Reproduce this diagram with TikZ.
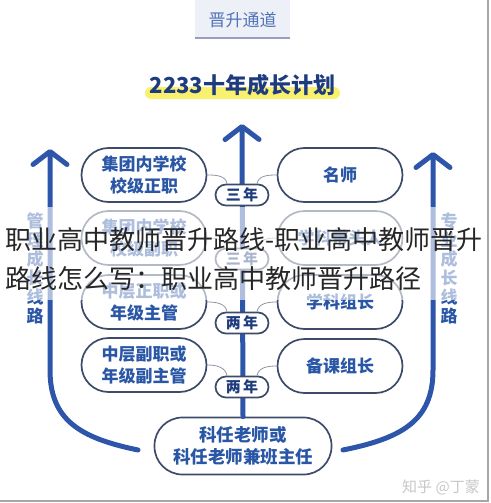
\documentclass[tikz,border=0pt]{standalone}
\usepackage{fontspec}
\setmainfont{Noto Sans CJK SC}
\definecolor{PathBlue}{RGB}{45, 85, 170}
\definecolor{BoxLine}{RGB}{60, 75, 105}
\definecolor{TextBlue}{RGB}{42, 86, 166}
\definecolor{TitleBlue}{RGB}{30, 60, 125}
\definecolor{TabFill}{RGB}{238, 240, 248}
\definecolor{TabLine}{RGB}{150, 160, 190}
\definecolor{TabText}{RGB}{80, 115, 185}
\definecolor{MarkYellow}{RGB}{248, 240, 110}
\definecolor{ConnGray}{RGB}{140, 150, 165}
\usetikzlibrary{arrows.meta, positioning, calc}

\begin{document}
\begin{tikzpicture}[x=1pt, y=-1pt,
    stage/.style={draw=BoxLine, line width=1.7pt, fill=white, rounded corners=27pt,
        minimum width=125pt, minimum height=54pt, inner sep=0pt, align=center,
        text=TextBlue, font=\bfseries\fontsize{17}{22}\selectfont},
    years/.style={draw=BoxLine, line width=1.7pt, fill=white, rounded corners=10.5pt,
        minimum width=53pt, minimum height=21pt, inner sep=0pt,
        text=TitleBlue, font=\bfseries\fontsize{15}{15}\selectfont},
    growth/.style={draw=PathBlue, line width=5pt, line cap=round,
        -{Straight Barb[length=13pt, width=34pt, round]}},
    conn/.style={draw=ConnGray, line width=0.8pt},
    sidetext/.style={align=center, text=TextBlue, inner sep=0pt,
        font=\bfseries\fontsize{17}{19}\selectfont}]
    \useasboundingbox (0,0) rectangle (490,503);

    % Header tab
    \fill[TabFill] (195,0) rectangle (290,38);
    \draw[TabLine, line width=1.2pt] (195,38) -- (290,38);
    \node[text=TabText, font=\fontsize{17}{17}\selectfont] (tab) at (242.5,20) {晋升通道};

    % Title with marker
    \fill[MarkYellow, rounded corners=6pt] (145,87) rectangle (340,99);
    \node[text=TitleBlue, font=\bfseries\fontsize{22}{22}\selectfont] (title) at (242.5,85) {2233十年成长计划};

    % Bottom stage
    \node[stage, minimum width=177pt, minimum height=57pt, rounded corners=28pt,
        font=\bfseries\fontsize{17.5}{22}\selectfont] (bb) at (243,446) {科任老师或\\科任老师兼班主任};

    % Growth arrows
    \coordinate (ctop) at (242,124);
    \coordinate (ltop) at (50,149);
    \coordinate (lend) at (138,450);
    \coordinate (rtop) at (433,152);
    \coordinate (rend) at (343,450);
    \draw[growth] (bb.north) -- (ctop);
    \draw[growth] (lend) .. controls (80,438) and (50,420) .. (50,370) -- (ltop);
    \draw[growth] (rend) .. controls (403,438) and (433,420) .. (433,370) -- (rtop);

    % Side labels
    \node[sidetext] (lside) at (35,268.5) {管\\理\\成\\长\\线\\路};
    \node[sidetext] (rside) at (449,268.5) {专\\业\\成\\长\\线\\路};

    % Management stages
    \node[stage] (lb1) at (144,175) {集团内学校\\校级正职};
    \node[stage] (lb2) at (144,238) {集团内学校\\校级副职};
    \node[stage] (lb3) at (144,302) {中层正职或\\年级主管};
    \node[stage] (lb4) at (144,365) {中层副职或\\年级副主管};

    % Teaching stages
    \node[stage] (rb1) at (340,175) {名师};
    \node[stage] (rb2) at (340,238) {学科带头人};
    \node[stage] (rb3) at (340,302) {学科组长};
    \node[stage] (rb4) at (340,366) {备课组长};

    % Year marks
    \node[years] (y1) at (242,195) {三\,年};
    \node[years] (y2) at (242,259) {三\,年};
    \node[years] (y3) at (242,323) {两\,年};
    \node[years] (y4) at (242,387) {两\,年};
    \foreach \i in {1,...,4} {
        \draw[conn] (lb\i.east) to[out=0, in=100] ($(y\i.north)+(-15,0)$);
        \draw[conn] (rb\i.west) to[out=180, in=80] ($(y\i.north)+(15,0)$);
    }

    % Caption band over the picture
    \fill[white, opacity=0.62] (0,207) rectangle (490,300);
    \node[anchor=west, inner sep=0pt, text=black!85, font=\fontsize{26}{26}\selectfont] (cap1) at (5,240) {职业高中教师晋升路线-职业高中教师晋升};
    \node[anchor=west, inner sep=0pt, text=black!85, font=\fontsize{26}{26}\selectfont] (cap2) at (5,279) {路线怎么写：职业高中教师晋升路径};

    % Watermark and frame
    \node[text=black!22, font=\fontsize{15}{15}\selectfont] (mark) at (441,487) {知乎 @丁蒙};
    \draw[black!35, line width=1.5pt] (488,0) -- (488,501) -- (0,501);
\end{tikzpicture}
\end{document}
